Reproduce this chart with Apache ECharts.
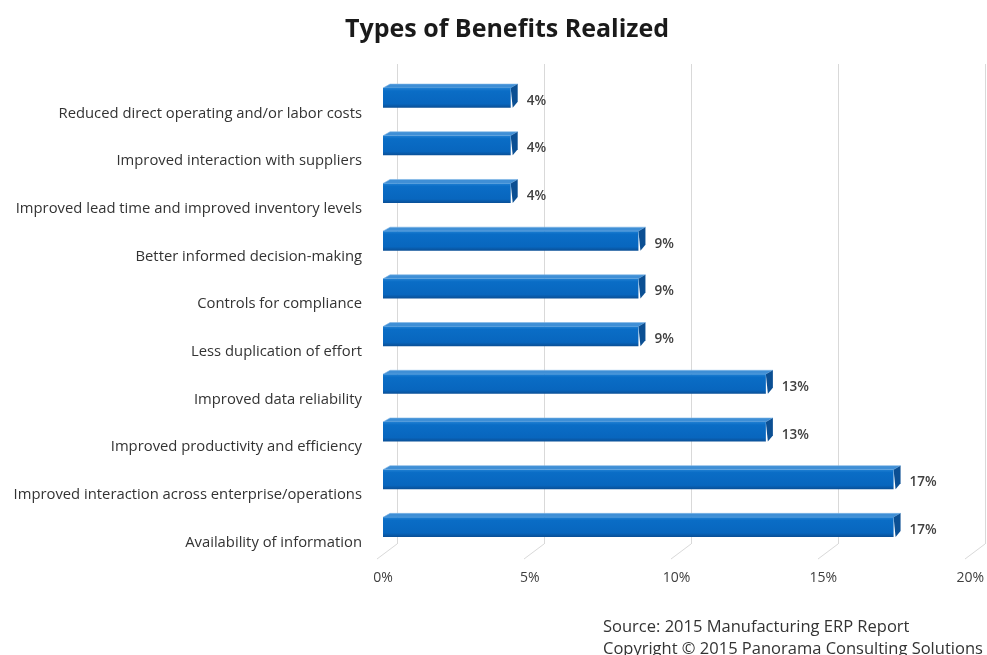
<!DOCTYPE html>
<html>
<head>
<meta charset="utf-8">
<script src="https://cdn.jsdelivr.net/npm/echarts@6/dist/echarts.min.js"></script>
<style>html,body{margin:0;padding:0;background:#fff}#c{width:987px;height:655px}</style>
</head>
<body>
<div id="c"></div>
<script>
var categories = [
  'Reduced direct operating and/or labor costs',
  'Improved interaction with suppliers',
  'Improved lead time and improved inventory levels',
  'Better informed decision-making',
  'Controls for compliance',
  'Less duplication of effort',
  'Improved data reliability',
  'Improved productivity and efficiency',
  'Improved interaction across enterprise/operations',
  'Availability of information'
];
var values = [4.35, 4.35, 4.35, 8.70, 8.70, 8.70, 13.04, 13.04, 17.39, 17.39];
var tickValues = [0, 5, 10, 15, 20];
var titleText = 'Types of Benefits Realized';
var sourceLines = ['Source: 2015 Manufacturing ERP Report', 'Copyright \u00A9 2015 Panorama Consulting Solutions'];

var FONT = '"Open Sans", "DejaVu Sans", sans-serif';
var chart = echarts.init(document.getElementById('c'), null, {renderer: 'canvas'});

function renderBar(params, api) {
  var idx = api.value(0);
  var v = api.value(1);
  var p0 = api.coord([0, idx]);
  var p1 = api.coord([v, idx]);
  var bandH = api.size([0, 1])[1];
  var h = bandH * 0.41;
  var d = 7, dy = 4;
  var x0 = p0[0], x1 = p1[0], cy = p0[1];
  var yt = cy - h / 2, yb = cy + h / 2;
  return {
    type: 'group',
    children: [
      {type: 'polygon', shape: {points: [[x0, yt], [x0 + d, yt - dy], [x1 + d, yt - dy], [x1, yt]]},
        style: {fill: '#3f8fd6', stroke: '#7fb6e6', lineWidth: 0.6}},
      {type: 'polygon', shape: {points: [[x1, yt], [x1 + d, yt - dy], [x1 + d, yb - dy - 2], [x1 + 2, yb]]},
        style: {fill: '#0b4f93'}},
      {type: 'rect', shape: {x: x0, y: yt, width: x1 - x0, height: h},
        style: {fill: new echarts.graphic.LinearGradient(0, 0, 0, 1, [
          {offset: 0, color: '#1f7fd2'}, {offset: 0.15, color: '#0a6dc6'},
          {offset: 0.8, color: '#0866be'}, {offset: 1, color: '#0a4f96'}])}},
      {type: 'text', style: {text: Math.round(v) + '%', x: x1 + d + 9, y: cy + 3,
        verticalAlign: 'middle', align: 'left', fill: '#404040',
        font: '600 13.5px ' + FONT}}
    ]
  };
}

function renderFloor(params, api) {
  var v = api.value(0);
  var p = api.coord([v, categories.length - 1]);
  var bandH = api.size([0, 1])[1];
  var yb = p[1] + bandH / 2;
  return {type: 'line', shape: {x1: p[0], y1: yb, x2: p[0] - 20, y2: yb + 15},
    style: {stroke: '#d9d9d9', lineWidth: 1}};
}

var data = values.map(function (v, i) { return [i, v]; });

chart.setOption({
  backgroundColor: '#fff',
  animation: false,
  title: [
    {text: titleText, left: 340, top: 12,
      textStyle: {fontFamily: FONT, fontWeight: 'bold', fontSize: 25, color: '#1a1a1a'}},
    {text: sourceLines[0], left: 598, top: 614,
      textStyle: {fontFamily: FONT, fontWeight: 'normal', fontSize: 16.5, color: '#333'}},
    {text: sourceLines[1], left: 598, top: 636,
      textStyle: {fontFamily: FONT, fontWeight: 'normal', fontSize: 16.5, color: '#333'}}
  ],
  grid: [
    {left: 383, width: 588, top: 74, height: 477},
    {left: 397, width: 588, top: 64, height: 480}
  ],
  xAxis: [
    {gridIndex: 0, type: 'value', min: 0, max: 20, interval: 5,
      axisLine: {show: false}, axisTick: {show: false}, splitLine: {show: false},
      axisLabel: {formatter: '{value}%', margin: 20, fontFamily: FONT, fontSize: 14, color: '#404040'}},
    {gridIndex: 1, type: 'value', min: 0, max: 20, interval: 5,
      axisLine: {show: false}, axisTick: {show: false}, axisLabel: {show: false},
      splitLine: {show: true, lineStyle: {color: '#d9d9d9', width: 1}}}
  ],
  yAxis: [
    {gridIndex: 0, type: 'category', data: categories, inverse: true,
      axisLine: {show: false}, axisTick: {show: false},
      axisLabel: {margin: 21, fontFamily: FONT, fontSize: 14.8, color: '#333',
        verticalAlign: 'top', lineHeight: 31}},
    {gridIndex: 1, type: 'category', data: categories, inverse: true, show: false}
  ],
  series: [{
    type: 'custom',
    xAxisIndex: 1, yAxisIndex: 1,
    renderItem: renderFloor,
    encode: {x: 0},
    data: tickValues.map(function (t) { return [t]; }),
    silent: true
  }, {
    type: 'custom',
    xAxisIndex: 0, yAxisIndex: 0,
    renderItem: renderBar,
    encode: {x: 1, y: 0},
    data: data
  }]
});
</script>
</body>
</html>
